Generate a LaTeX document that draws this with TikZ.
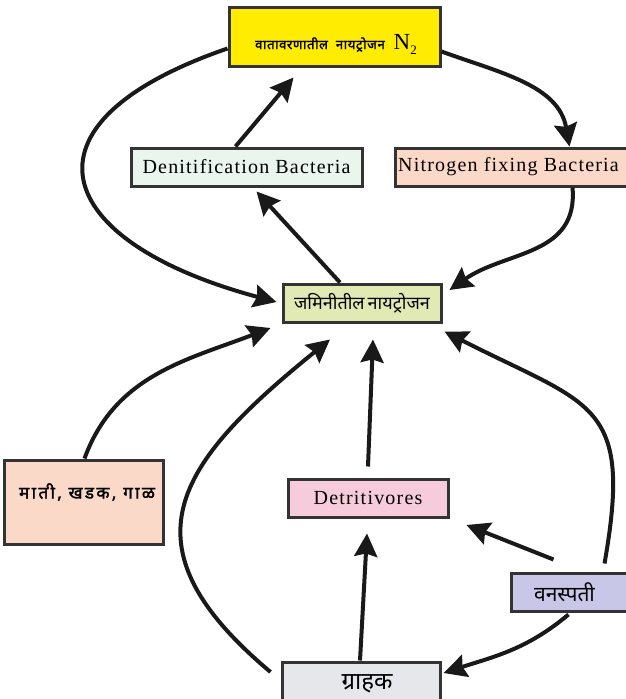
\documentclass[tikz,border=0pt]{standalone}
\usepackage{fontspec}
\setmainfont{Liberation Serif}
\newfontfamily\dev[Script=Devanagari]{Noto Sans}
\newfontfamily\devb[Script=Devanagari,FakeBold=2]{Noto Sans}
\usepackage{tikz}
\usetikzlibrary{arrows.meta}

\definecolor{atmcol}{RGB}{255,236,0}
\definecolor{dencol}{RGB}{234,245,238}
\definecolor{fixcol}{RGB}{251,216,200}
\definecolor{soilcol}{RGB}{225,234,180}
\definecolor{rockcol}{RGB}{251,217,201}
\definecolor{detcol}{RGB}{246,204,220}
\definecolor{plantcol}{RGB}{201,199,231}
\definecolor{conscol}{RGB}{230,231,234}

\begin{document}
\begin{tikzpicture}[x=1pt, y=-1pt, >={Stealth[length=23pt,width=23pt,inset=3pt]},
    box/.style={draw=black!80, line width=3pt, inner sep=0pt},
    arr/.style={->, line width=4pt, draw=black!90},
    lat/.style={font=\fontsize{20}{22}\selectfont\addfontfeatures{LetterSpace=6}},
    mar/.style={font=\dev\fontsize{18}{20}\selectfont}]
        \useasboundingbox (0,0) rectangle (625,699);

        % Boxes
        \node[box, fill=atmcol, minimum width=211pt, minimum height=59pt] (N2) at (334.5,36.5) {};
        \node (N2txt) at (336,44) {{\devb\fontsize{13}{15}\selectfont\addfontfeatures{LetterSpace=5}वातावरणातील\hspace{8pt}नायट्रोजन}\hspace{9pt}{\fontsize{23}{25}\selectfont N\raisebox{-5pt}{\fontsize{13}{13}\selectfont 2}}};
        \node[box, fill=dencol, minimum width=231pt, minimum height=38pt, lat] (Den) at (246.5,167) {Denitification Bacteria};
        \node[box, fill=fixcol, minimum width=235pt, minimum height=38pt, lat] (Fix) at (512.5,167) {\hspace{-8pt}Nitrogen fixing Bacteria};
        \node[box, fill=soilcol, minimum width=158pt, minimum height=38pt, mar] (SoilN) at (362,303) {जमिनीतील\hspace{3pt}नायट्रोजन};
        \node[box, fill=rockcol, minimum width=159pt, minimum height=84pt] (Rock) at (83.5,502) {};
        \node[font=\devb\fontsize{17}{19}\selectfont\addfontfeatures{LetterSpace=14}] (Rocktxt) at (87,492) {माती, खडक, गाळ};
        \node[box, fill=detcol, minimum width=160pt, minimum height=38pt, lat] (Det) at (368,498) {Detritivores};
        \node[box, fill=plantcol, minimum width=125pt, minimum height=38pt, font=\dev\fontsize{21}{23}\selectfont] (Plant) at (573.5,592) {\hspace{-18pt}वनस्पती};
        \node[box, fill=conscol, minimum width=158pt, minimum height=44pt, font=\dev\fontsize{24}{26}\selectfont] (Cons) at (361,684) {\hspace{12pt}ग्राहक};

        % Upper cycle
        \draw[arr] ([xshift=-11pt]Den.north) -- ([xshift=-41pt,yshift=-10pt]N2.south);
        \draw[arr] ([yshift=-15pt]N2.east) to[out=-20, in=100] ([xshift=57pt]Fix.north);
        \draw[arr] ([yshift=-12pt]N2.west) to[out=-161, in=165, looseness=2.3] ([xshift=-5pt,yshift=1pt]SoilN.west);
        \draw[arr] ([xshift=-22pt]SoilN.north) -- ([xshift=10pt,yshift=-4pt]Den.south);
        \draw[arr] ([xshift=60pt]Fix.south) to[out=-85, in=35, looseness=1.1] ([xshift=7pt,yshift=13pt]SoilN.east);

        % Lower cycle
        \draw[arr] ([xshift=1pt]Rock.north) to[out=70, in=-159] ([xshift=-11pt,yshift=-25pt]SoilN.west);
        \draw[arr] ([xshift=-10pt,yshift=12pt]Cons.west) to[out=140, in=-141, looseness=1.5] ([xshift=-32pt,yshift=-16pt]SoilN.south);
        \draw[arr] ([yshift=11pt]Det.north) -- ([xshift=11pt,yshift=-16pt]SoilN.south);
        \draw[arr] ([xshift=31pt,yshift=8pt]Plant.north) to[out=80, in=-27, looseness=1.5] ([xshift=2pt,yshift=-8pt]SoilN.south east);
        \draw[arr] ([xshift=-20pt,yshift=12pt]Plant.north) -- ([xshift=17pt,yshift=-27pt]Det.east);
        \draw[arr] ([xshift=-1pt]Cons.north) -- ([xshift=-1pt,yshift=-15pt]Det.south);
        \draw[arr] ([xshift=-5pt,yshift=-2pt]Plant.south) to[out=-140, in=18] ([xshift=2pt,yshift=11pt]Cons.east);

\end{tikzpicture}
\end{document}
